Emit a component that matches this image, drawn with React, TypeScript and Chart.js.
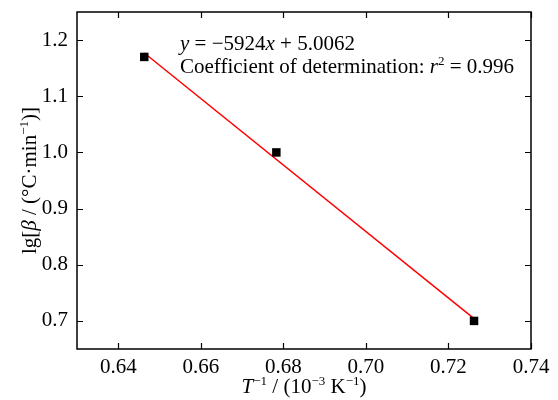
import React, { useEffect, useRef } from "react";
import { Chart, registerables } from "chart.js";

Chart.register(...registerables);

// ---- data ----
const pointX = [0.6463, 0.6783, 0.7262];
const pointY = [1.17, 1.0, 0.7];
const fitX = [0.6463, 0.7262];
const fitY = [1.177, 0.704];
const xTicks = [0.64, 0.66, 0.68, 0.7, 0.72, 0.74];
const yTicks = [0.7, 0.8, 0.9, 1.0, 1.1, 1.2];
const xRange = [0.63, 0.74];
const yRange = [0.65, 1.25];

type Seg = { t: string; i?: boolean; sup?: boolean };
const xTitle: Seg[] = [
  { t: "T", i: true }, { t: "−1", sup: true }, { t: " / (10" }, { t: "−3", sup: true },
  { t: " K" }, { t: "−1", sup: true }, { t: ")" },
];
const yTitle: Seg[] = [
  { t: "lg[" }, { t: "β", i: true }, { t: " / (°C·min" }, { t: "−1", sup: true }, { t: ")]" },
];
const eqLine1: Seg[] = [
  { t: "y", i: true }, { t: " = −5924" }, { t: "x", i: true }, { t: " + 5.0062" },
];
const eqLine2: Seg[] = [
  { t: "Coefficient of determination: " }, { t: "r", i: true }, { t: "2", sup: true }, { t: " = 0.996" },
];

const FONT = "'Liberation Serif', 'Times New Roman', serif";
const FS = 21;

function fontFor(s: Seg, size: number) {
  const sz = s.sup ? size * 0.62 : size;
  return `${s.i ? "italic " : ""}${sz}px ${FONT}`;
}
function richWidth(ctx: CanvasRenderingContext2D, segs: Seg[], size: number) {
  let w = 0;
  for (const s of segs) {
    ctx.font = fontFor(s, size);
    w += ctx.measureText(s.t).width;
  }
  return w;
}
function drawRich(ctx: CanvasRenderingContext2D, segs: Seg[], x: number, y: number, size: number) {
  let cx = x;
  ctx.textBaseline = "alphabetic";
  ctx.textAlign = "left";
  for (const s of segs) {
    ctx.font = fontFor(s, size);
    ctx.fillText(s.t, cx, s.sup ? y - size * 0.38 : y);
    cx += ctx.measureText(s.t).width;
  }
}

const framePlugin = {
  id: "frameTicks",
  afterDatasetsDraw(chart: any) {
    const ctx: CanvasRenderingContext2D = chart.ctx;
    const { left, right, top, bottom } = chart.chartArea;
    const xs = chart.scales.x;
    const ys = chart.scales.y;
    ctx.save();
    ctx.strokeStyle = "#000";
    ctx.lineWidth = 1.5;
    ctx.strokeRect(left, top, right - left, bottom - top);
    const L = 6;
    ctx.beginPath();
    for (const v of xTicks) {
      const p = Math.round(xs.getPixelForValue(v)) + 0.5;
      ctx.moveTo(p, bottom); ctx.lineTo(p, bottom - L);
      ctx.moveTo(p, top); ctx.lineTo(p, top + L);
    }
    for (const v of yTicks) {
      const p = Math.round(ys.getPixelForValue(v)) + 0.5;
      ctx.moveTo(left, p); ctx.lineTo(left + L, p);
      ctx.moveTo(right, p); ctx.lineTo(right - L, p);
    }
    ctx.lineWidth = 1.2;
    ctx.stroke();

    ctx.fillStyle = "#000";
    // x title
    const xw = richWidth(ctx, xTitle, FS);
    drawRich(ctx, xTitle, (left + right) / 2 - xw / 2, 393, FS);
    // y title
    const yw = richWidth(ctx, yTitle, FS);
    ctx.save();
    ctx.translate(36, (top + bottom) / 2);
    ctx.rotate(-Math.PI / 2);
    drawRich(ctx, yTitle, -yw / 2, 0, FS);
    ctx.restore();
    // equation
    drawRich(ctx, eqLine1, left + 103, top + 38, FS);
    drawRich(ctx, eqLine2, left + 103, top + 61, FS);
    ctx.restore();
  },
};

export default function App() {
  const ref = useRef<HTMLCanvasElement | null>(null);
  useEffect(() => {
    if (!ref.current) return;
    const chart = new Chart(ref.current, {
      type: "scatter",
      data: {
        datasets: [
          {
            label: "data",
            data: pointX.map((x, i) => ({ x, y: pointY[i] })),
            pointStyle: "rect",
            radius: 6,
            backgroundColor: "#000",
            borderColor: "#000",
            borderWidth: 0,
            showLine: false,
          },
          {
            label: "fit",
            data: fitX.map((x, i) => ({ x, y: fitY[i] })),
            showLine: true,
            borderColor: "#ff0000",
            borderWidth: 1.5,
            pointRadius: 0,
            pointHoverRadius: 0,
          },
        ],
      } as any,
      options: {
        animation: false,
        responsive: false,
        events: [],
        layout: { padding: { top: 12, right: 27, left: 0, bottom: 0 } },
        plugins: { legend: { display: false }, tooltip: { enabled: false } },
        scales: {
          x: {
            type: "linear",
            min: xRange[0],
            max: xRange[1],
            afterFit: (s: any) => {
              s.height = 51;
              s.paddingLeft = 0; s.paddingRight = 0; s.paddingTop = 0; s.paddingBottom = 0;
            },
            afterBuildTicks: (s: any) => { s.ticks = xTicks.map((v) => ({ value: v })); },
            grid: { display: false, drawTicks: false },
            border: { display: false },
            ticks: {
              padding: 6,
              color: "#000",
              font: { family: FONT, size: FS },
              callback: (v: any) => Number(v).toFixed(2),
              maxRotation: 0,
            },
          },
          y: {
            type: "linear",
            min: yRange[0],
            max: yRange[1],
            afterFit: (s: any) => {
              s.width = 77;
              s.paddingLeft = 0; s.paddingRight = 0; s.paddingTop = 0; s.paddingBottom = 0;
            },
            afterBuildTicks: (s: any) => { s.ticks = yTicks.map((v) => ({ value: v })); },
            grid: { display: false, drawTicks: false },
            border: { display: false },
            ticks: {
              padding: 9,
              color: "#000",
              font: { family: FONT, size: FS },
              callback: (v: any) => Number(v).toFixed(1),
            },
          },
        },
      } as any,
      plugins: [framePlugin],
    });
    return () => chart.destroy();
  }, []);
  return (
    <div style={{ position: "fixed", left: 0, top: 0, width: 558, height: 400, background: "#fff" }}>
      <canvas ref={ref} width={558} height={400} style={{ width: 558, height: 400 }} />
    </div>
  );
}
